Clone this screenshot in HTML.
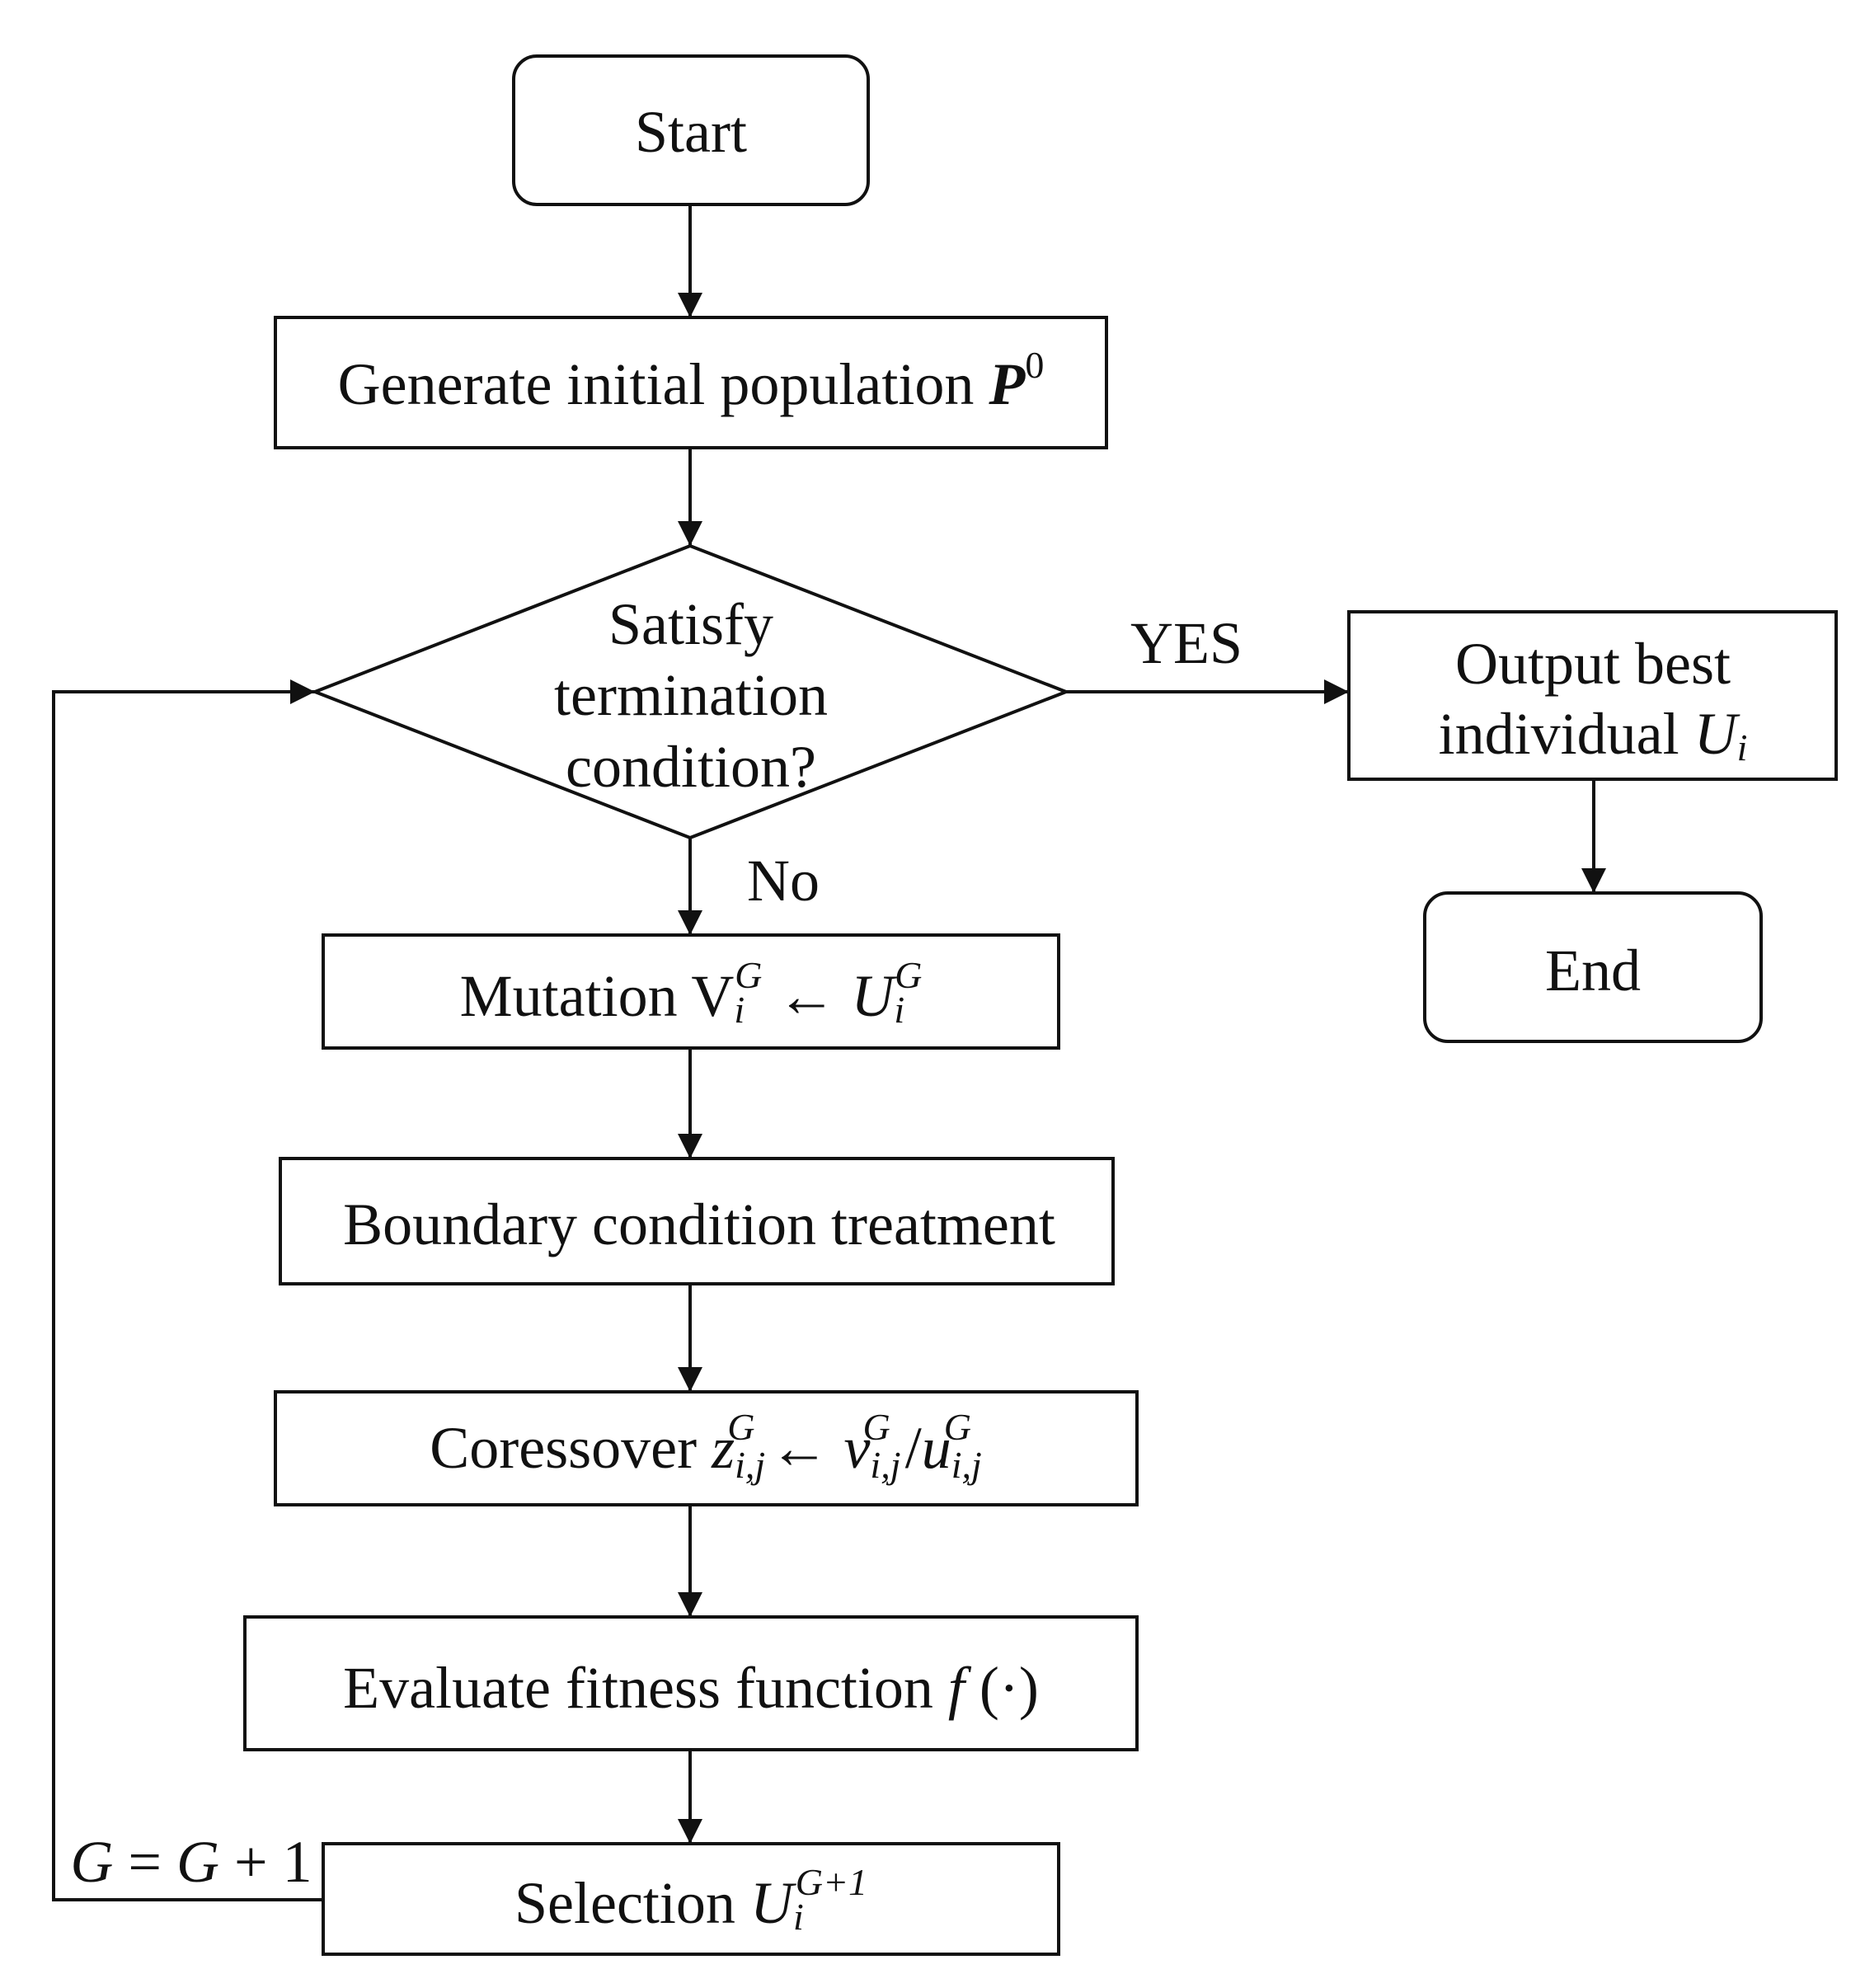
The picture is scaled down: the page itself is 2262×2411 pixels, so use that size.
<!DOCTYPE html>
<html><head><meta charset="utf-8"><style>
html,body{margin:0;padding:0;background:#fff;}
svg{display:block;}
text{font-family:"Liberation Serif",serif;font-size:72px;fill:#111;}
.i{font-style:italic;}
.s{font-size:46px;}
</style></head><body>
<svg width="2262" height="2411" viewBox="0 0 2262 2411" xmlns="http://www.w3.org/2000/svg">
<defs>
<marker id="b" viewBox="0 0 10 10" refX="10" refY="5" markerWidth="30" markerHeight="30" markerUnits="userSpaceOnUse" orient="auto"><path d="M0,0 L10,5 L0,10 z" fill="#111"/></marker></defs>
<g fill="none" stroke="#111" stroke-width="4">
<rect x="623" y="68" width="430" height="180" rx="28"/>
<rect x="334" y="385" width="1008" height="158"/>
<polygon points="382,839 837,662 1293,839 837,1016"/>
<rect x="1636" y="742" width="591" height="203"/>
<rect x="1728" y="1083" width="408" height="180" rx="28"/>
<rect x="392" y="1134" width="892" height="137"/>
<rect x="340" y="1405" width="1010" height="152"/>
<rect x="334" y="1688" width="1045" height="137"/>
<rect x="297" y="1961" width="1082" height="161"/>
<rect x="392" y="2236" width="892" height="134"/>
<g marker-end="url(#b)">
<line x1="837" y1="248" x2="837" y2="385"/>
<line x1="837" y1="543" x2="837" y2="662"/>
<line x1="837" y1="1016" x2="837" y2="1134"/>
<line x1="837" y1="1271" x2="837" y2="1405"/>
<line x1="837" y1="1557" x2="837" y2="1688"/>
<line x1="837" y1="1825" x2="837" y2="1961"/>
<line x1="837" y1="2122" x2="837" y2="2236"/>
<line x1="1293" y1="839" x2="1636" y2="839"/>
<line x1="1933" y1="945" x2="1933" y2="1083"/>
<polyline points="392,2304 65,2304 65,839 382,839"/>
</g>
</g>
<g text-anchor="middle" dominant-baseline="central">
<text x="838" y="160">Start</text>
<text x="838" y="466">Generate initial population <tspan font-weight="bold" class="i">P</tspan><tspan class="s" dy="-24">0</tspan></text>
<text x="838" y="757">Satisfy</text>
<text x="838" y="843">termination</text>
<text x="838" y="930">condition?</text>
<text x="1932" y="805">Output best</text>
<text x="1932" y="890">individual   <tspan class="i">U</tspan><tspan class="i s" dy="16">i</tspan></text>
<text x="1932" y="1177">End</text>
<text x="1439" y="780">YES</text>
<text x="950" y="1068">No</text>
<text x="838" y="1208">Mutation  V<tspan class="i s" dy="16">i</tspan><tspan class="i s" dx="-12" dy="-42">G</tspan><tspan dy="26">  ←  </tspan><tspan class="i">U</tspan><tspan class="i s" dy="16">i</tspan><tspan class="i s" dx="-12" dy="-42">G</tspan></text>
<text x="848" y="1485">Boundary condition treatment</text>
<text x="856" y="1756">Coressover <tspan class="i">z</tspan><tspan class="i s" dy="20">i,j</tspan><tspan class="i s" dx="-46" dy="-46">G</tspan><tspan dy="26">   ←  </tspan><tspan class="i">v</tspan><tspan class="i s" dy="20">i,j</tspan><tspan class="i s" dx="-46" dy="-46">G</tspan><tspan dy="26">   /</tspan><tspan class="i">u</tspan><tspan class="i s" dy="20">i,j</tspan><tspan class="i s" dx="-46" dy="-46">G</tspan></text>
<text x="838" y="2047">Evaluate  fitness  function <tspan class="i">f</tspan> (·)</text>
<text x="838" y="2308">Selection    <tspan class="i">U</tspan><tspan class="i s" dy="16">i</tspan><tspan class="i s" dx="-10" dy="-42">G+1</tspan></text>
<text x="232" y="2258"><tspan class="i">G</tspan> = <tspan class="i">G</tspan> + 1</text>
</g>
</svg>
</body></html>
